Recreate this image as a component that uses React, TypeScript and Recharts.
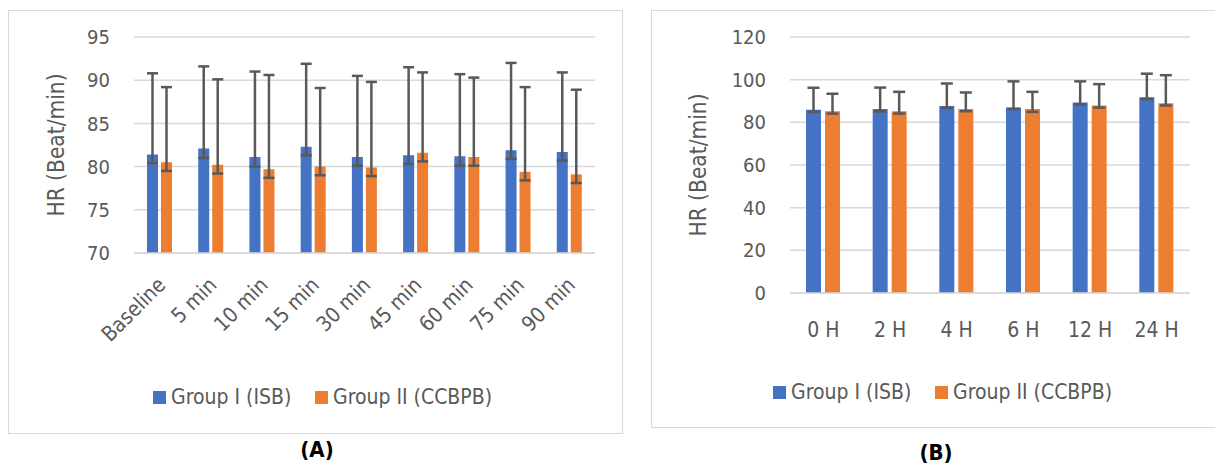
import React from 'react';
import { BarChart, Bar, XAxis, YAxis, CartesianGrid, ErrorBar } from 'recharts';

// Panel A: intra-operative heart rate
const minuteLabels = ['Baseline', '5 min', '10 min', '15 min', '30 min', '45 min', '60 min', '75 min', '90 min'];
const groupIMinutes = [81.4, 82.1, 81.1, 82.3, 81.1, 81.3, 81.2, 81.9, 81.7];
const groupIIMinutes = [80.5, 80.2, 79.7, 80.0, 79.9, 81.6, 81.1, 79.4, 79.1];
const groupIMinutesUp = [9.4, 9.5, 9.9, 9.6, 9.4, 10.2, 9.5, 10.1, 9.2];
const groupIIMinutesUp = [8.7, 9.9, 10.9, 9.1, 9.9, 9.3, 9.2, 9.8, 9.8];
const groupIMinutesDown = [1.0, 1.1, 1.1, 1.0, 1.0, 1.0, 1.1, 1.0, 1.0];
const groupIIMinutesDown = [1.0, 1.0, 1.0, 1.0, 1.0, 1.0, 1.0, 1.0, 1.0];
const minuteTicks = [70, 75, 80, 85, 90, 95];

// Panel B: post-operative heart rate
const hourLabels = ['0 H', '2 H', '4 H', '6 H', '12 H', '24 H'];
const groupIHours = [85.9, 86.3, 87.6, 86.9, 89.3, 91.8];
const groupIIHours = [85.2, 85.2, 86.3, 86.2, 87.9, 89.0];
const groupIHoursUp = [10.3, 10.0, 10.6, 12.3, 9.9, 11.0];
const groupIIHoursUp = [8.2, 9.1, 7.7, 8.1, 10.0, 13.1];
const groupIHoursDown = [1.0, 1.2, 0.8, 0.6, 0.9, 0.9];
const groupIIHoursDown = [1.1, 1.1, 1.1, 1.3, 1.0, 1.1];
const hourTicks = [0, 20, 40, 60, 80, 100, 120];

const BLUE = '#4472C4';
const ORANGE = '#ED7D31';
const GRID = '#D9D9D9';
const TEXT = '#595959';
const ERR = '#595959';
const FONT = '"DejaVu Sans Condensed", "Liberation Sans Narrow", sans-serif';

const minuteData = minuteLabels.map((name, i) => ({
  name,
  g1: groupIMinutes[i],
  g2: groupIIMinutes[i],
  e1: [groupIMinutesDown[i], groupIMinutesUp[i]],
  e2: [groupIIMinutesDown[i], groupIIMinutesUp[i]],
}));

const hourData = hourLabels.map((name, i) => ({
  name,
  g1: groupIHours[i],
  g2: groupIIHours[i],
  e1: [groupIHoursDown[i], groupIHoursUp[i]],
  e2: [groupIIHoursDown[i], groupIIHoursUp[i]],
}));

const RotatedTick = ({ x, y, payload }: any) => (
  <g transform={`translate(${x + 2},${y + 28})`}>
    <text transform="rotate(-45)" textAnchor="end" dy="0.35em" fill={TEXT} fontSize={21} fontFamily={FONT}>
      {payload.value}
    </text>
  </g>
);

const FlatTick = ({ x, y, payload }: any) => (
  <text x={x} y={y + 37} textAnchor="middle" dy="0.35em" fill={TEXT} fontSize={21} fontFamily={FONT}>
    {payload.value}
  </text>
);

const yTitle = (dx: number) => ({ viewBox }: any) => {
  const cx = viewBox.x + dx;
  const cy = viewBox.y + viewBox.height / 2;
  return (
    <text x={cx} y={cy} transform={`rotate(-90, ${cx}, ${cy})`} textAnchor="middle" fill={TEXT} fontSize={22.5} fontFamily={FONT}>
      HR (Beat/min)
    </text>
  );
};

const LegendItem = ({ left, top, color, label }: any) => (
  <div style={{ position: 'absolute', left, top, height: 30, display: 'flex', alignItems: 'center', gap: 5 }}>
    <div style={{ width: 13, height: 13, background: color }} />
    <span style={{ fontFamily: FONT, fontSize: 21, color: TEXT, whiteSpace: 'nowrap' }}>{label}</span>
  </div>
);

const Caption = ({ cx, cy, text }: any) => (
  <div style={{ position: 'absolute', left: cx - 40, top: cy - 15, width: 80, height: 30, lineHeight: '30px', textAlign: 'center', fontFamily: FONT, fontWeight: 'bold', fontSize: 22, color: '#000' }}>
    {text}
  </div>
);

export default function App() {
  return (
    <div style={{ position: 'absolute', left: 0, top: 0, width: 1215, height: 468, background: '#fff', overflow: 'hidden' }}>
      {/* panel borders */}
      <div style={{ position: 'absolute', left: 8, top: 10, width: 613, height: 422, border: `1.5px solid ${GRID}` }} />
      <div style={{ position: 'absolute', left: 651, top: 10, width: 600, height: 416, border: `1.5px solid ${GRID}` }} />

      <div style={{ position: 'absolute', left: 9, top: 11 }}>
        <BarChart width={613} height={345} data={minuteData} margin={{ top: 26, right: 27, left: 0, bottom: 0 }} barSize={11} barGap={3}>
          <CartesianGrid vertical={false} stroke={GRID} strokeWidth={1.5} />
          <XAxis dataKey="name" height={103} interval={0} tickLine={false} tickSize={0} tickMargin={0} axisLine={{ stroke: GRID, strokeWidth: 1.5 }} tick={<RotatedTick />} />
          <YAxis width={125} domain={[70, 95]} ticks={minuteTicks} axisLine={false} tickLine={false} tickSize={0} tickMargin={24}
            tick={{ fill: TEXT, fontSize: 20, fontFamily: FONT }} label={{ content: yTitle(55) }} />
          <Bar dataKey="g1" fill={BLUE} isAnimationActive={false}>
            <ErrorBar dataKey="e1" width={5.5} strokeWidth={2.5} stroke={ERR} direction="y" />
          </Bar>
          <Bar dataKey="g2" fill={ORANGE} isAnimationActive={false}>
            <ErrorBar dataKey="e2" width={5.5} strokeWidth={2.5} stroke={ERR} direction="y" />
          </Bar>
        </BarChart>
      </div>

      <div style={{ position: 'absolute', left: 652, top: 11 }}>
        <BarChart width={563} height={350} data={hourData} margin={{ top: 26, right: 25, left: 0, bottom: 0 }} barSize={15} barGap={4}>
          <CartesianGrid vertical={false} stroke={GRID} strokeWidth={1.5} />
          <XAxis dataKey="name" height={68} interval={0} tickLine={false} tickSize={0} tickMargin={0} axisLine={{ stroke: GRID, strokeWidth: 1.5 }} tick={<FlatTick />} />
          <YAxis width={138} domain={[0, 120]} ticks={hourTicks} axisLine={false} tickLine={false} tickSize={0} tickMargin={24}
            tick={{ fill: TEXT, fontSize: 20, fontFamily: FONT }} label={{ content: yTitle(54) }} />
          <Bar dataKey="g1" fill={BLUE} isAnimationActive={false}>
            <ErrorBar dataKey="e1" width={6} strokeWidth={2.5} stroke={ERR} direction="y" />
          </Bar>
          <Bar dataKey="g2" fill={ORANGE} isAnimationActive={false}>
            <ErrorBar dataKey="e2" width={6} strokeWidth={2.5} stroke={ERR} direction="y" />
          </Bar>
        </BarChart>
      </div>

      <LegendItem left={153} top={382} color={BLUE} label="Group I (ISB)" />
      <LegendItem left={315} top={382} color={ORANGE} label="Group II (CCBPB)" />
      <LegendItem left={773} top={377} color={BLUE} label="Group I (ISB)" />
      <LegendItem left={935} top={377} color={ORANGE} label="Group II (CCBPB)" />

      <Caption cx={317} cy={450} text="(A)" />
      <Caption cx={936} cy={453} text="(B)" />
    </div>
  );
}
